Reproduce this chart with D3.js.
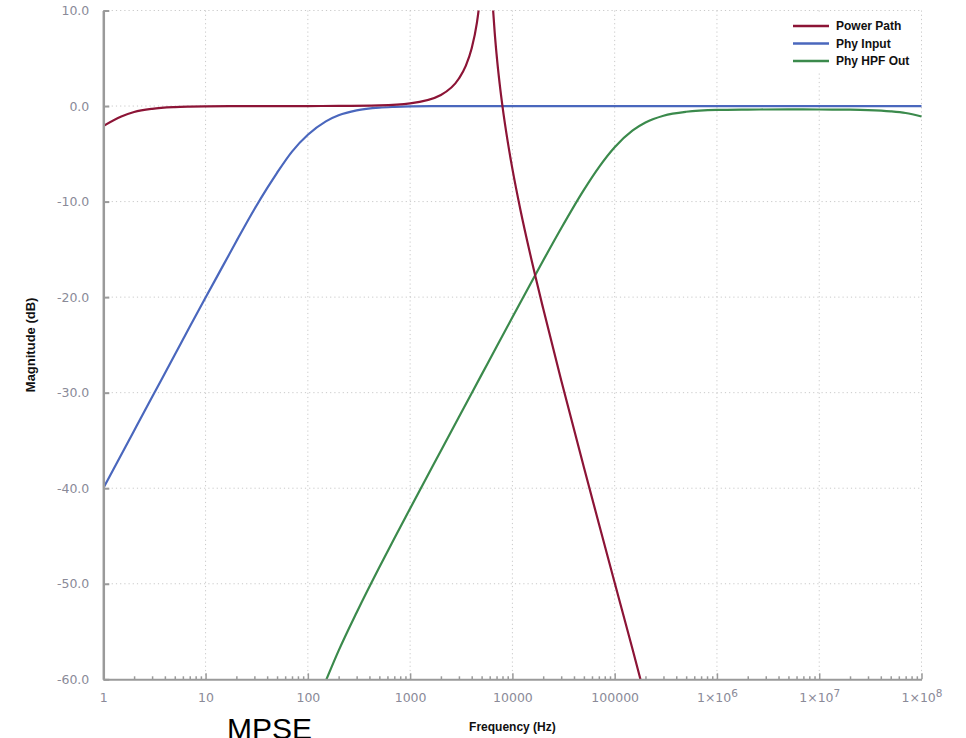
<!DOCTYPE html>
<html>
<head>
<meta charset="utf-8">
<script src="https://cdn.jsdelivr.net/npm/d3@7"></script>
<style>
  html, body { margin: 0; padding: 0; background: #ffffff; }
  svg { display: block; }
</style>
</head>
<body>
<svg id="chart" width="966" height="738"></svg>
<script>
// ---- Data ----
const seriesNames = ["Power Path", "Phy Input", "Phy HPF Out"];
const seriesColors = ["#8c1436", "#4a67bd", "#3b8a4c"];

const freqPower = [1, 1.5, 2, 3, 5, 7, 10, 20, 50, 100, 200, 500, 1000, 2000, 3000, 3500, 4000, 4500, 4700, 4800, 5000, 5300, 5650, 6000, 6200, 6300, 6400, 6500, 6700, 7000, 7500, 8000, 9000, 10000, 12000, 15000, 20000, 30000, 50000, 70000, 100000, 150000, 200000];
const dbPower   = [-2.1, -1.1, -0.63, -0.29, -0.11, -0.06, -0.03, 0, 0, 0, 0.01, 0.07, 0.28, 1.16, 2.88, 4.2, 6.04, 8.74, 10.23, 11.11, 13.3, 18.4, 26, 17.9, 13.8, 12.28, 10.96, 9.8, 7.82, 5.43, 2.36, -0.04, -3.73, -6.58, -10.9, -15.6, -21.2, -28.7, -37.8, -43.7, -49.9, -56.9, -62.0];

const freqInput = [1, 2, 3, 5, 7, 10, 15, 20, 30, 40, 50, 70, 100, 150, 200, 300, 500, 700, 1000, 2000, 10000, 100000, 1e6, 1e7, 1e8];
const dbInput   = [-40, -33.98, -30.46, -26.03, -23.1, -20.04, -16.6, -14.15, -10.8, -8.6, -6.99, -4.77, -3.01, -1.6, -0.97, -0.46, -0.17, -0.09, -0.04, -0.01, 0, 0, 0, 0, 0];

const freqHpf = [150, 200, 300, 500, 700, 1000, 2000, 3000, 5000, 7000, 10000, 15000, 20000, 30000, 50000, 70000, 100000, 150000, 200000, 300000, 500000, 1e6, 2e6, 5e6, 1e7, 2e7, 3e7, 5e7, 7e7, 1e8];
const dbHpf   = [-60.15, -57.0, -53.0, -48.27, -45.27, -42.12, -36.07, -32.54, -28.11, -25.19, -22.11, -18.62, -16.17, -12.79, -8.77, -6.41, -4.31, -2.55, -1.72, -1.01, -0.6, -0.41, -0.37, -0.35, -0.36, -0.38, -0.42, -0.55, -0.73, -1.1];

const xMajorTicks = [1, 10, 100, 1000, 10000, 100000, 1e6, 1e7, 1e8];
const xTickLabels = ["1", "10", "100", "1000", "10000", "100000", "1×10^6", "1×10^7", "1×10^8"];
const yTicks = [10, 0, -10, -20, -30, -40, -50, -60];

const xTitle = "Frequency (Hz)";
const yTitle = "Magnitude (dB)";
const footerText = "MPSE";

// ---- Layout ----
const plotLeft = 103.3, plotRight = 921.5, plotTop = 10.5, plotBottom = 679.3;
const svg = d3.select("#chart");

const x = d3.scaleLog().domain([1, 1e8]).range([plotLeft, plotRight]);
const y = d3.scaleLinear().domain([-60, 10]).range([plotBottom, plotTop]);

const labelColor = "#8a8a98";
const axisColor = "#9a9a9a";
const gridColor = "#c9c9c9";
const tickFont = "'DejaVu Sans', Verdana, sans-serif";
const titleFont = "'Liberation Sans', Arial, sans-serif";

// Gridlines
const grid = svg.append("g");
grid.selectAll("line.v").data(xMajorTicks.slice(1)).enter().append("line")
  .attr("x1", d => x(d)).attr("x2", d => x(d))
  .attr("y1", plotTop).attr("y2", plotBottom)
  .attr("stroke", gridColor).attr("stroke-width", 1).attr("stroke-dasharray", "1.2,3");
grid.selectAll("line.h").data(yTicks.filter(d => d > -60)).enter().append("line")
  .attr("x1", plotLeft).attr("x2", plotRight)
  .attr("y1", d => y(d)).attr("y2", d => y(d))
  .attr("stroke", gridColor).attr("stroke-width", 1).attr("stroke-dasharray", "1.2,3");

// Clip
svg.append("clipPath").attr("id", "plotclip").append("rect")
  .attr("x", plotLeft).attr("y", plotTop).attr("width", plotRight - plotLeft + 1).attr("height", plotBottom - plotTop);

// Lines
const line = d3.line().x(d => x(d[0])).y(d => y(d[1])).curve(d3.curveMonotoneX);
const seriesData = [
  d3.zip(freqPower, dbPower),
  d3.zip(freqInput, dbInput),
  d3.zip(freqHpf, dbHpf)
];
const plot = svg.append("g").attr("clip-path", "url(#plotclip)");
[2, 1, 0].forEach(i => {
  plot.append("path").datum(seriesData[i])
    .attr("d", line)
    .attr("fill", "none")
    .attr("stroke", seriesColors[i])
    .attr("stroke-width", 2.2)
    .attr("stroke-linejoin", "round");
});

// X axis (major)
const xAxis = d3.axisBottom(x).tickValues(xMajorTicks).tickSize(-6).tickSizeOuter(0).tickPadding(14)
  .tickFormat((d, i) => xTickLabels[i]);
const gx = svg.append("g").attr("transform", `translate(0,${plotBottom})`).call(xAxis);
gx.select(".domain").attr("stroke", axisColor).attr("stroke-width", 2);
gx.selectAll(".tick line").attr("stroke", axisColor).attr("stroke-width", 1.5);
gx.selectAll(".tick text")
  .attr("fill", labelColor).attr("font-family", tickFont).attr("font-size", 12.5)
  .each(function(d, i) {
    const t = xTickLabels[i];
    if (t.includes("^")) {
      const parts = t.split("^");
      const sel = d3.select(this);
      sel.text(null);
      sel.append("tspan").text(parts[0]);
      sel.append("tspan").attr("dy", "-0.45em").attr("font-size", 10.5).text(parts[1]);
    }
  });

// X axis minor ticks
const minorTicks = [];
for (let e = 0; e < 8; e++) for (let m = 2; m <= 9; m++) minorTicks.push(m * Math.pow(10, e));
const xMinor = d3.axisBottom(x).tickValues(minorTicks).tickSize(-3).tickSizeOuter(0).tickFormat("");
const gxm = svg.append("g").attr("transform", `translate(0,${plotBottom})`).call(xMinor);
gxm.select(".domain").remove();
gxm.selectAll(".tick line").attr("stroke", axisColor).attr("stroke-width", 1.5);

// Y axis
const yAxis = d3.axisLeft(y).tickValues(yTicks).tickSize(-6).tickSizeOuter(0).tickPadding(14)
  .tickFormat(d => d.toFixed(1));
const gy = svg.append("g").attr("transform", `translate(${plotLeft},0)`).call(yAxis);
gy.select(".domain").attr("stroke", axisColor).attr("stroke-width", 2.5);
gy.selectAll(".tick line").attr("stroke", axisColor).attr("stroke-width", 2);
gy.selectAll(".tick text").attr("fill", labelColor).attr("font-family", tickFont).attr("font-size", 12.5);

// Axis titles
svg.append("text").attr("x", (plotLeft + plotRight) / 2).attr("y", 731)
  .attr("text-anchor", "middle").attr("font-family", titleFont).attr("font-weight", "bold")
  .attr("font-size", 12).attr("fill", "#111").text(xTitle);
svg.append("text").attr("transform", `translate(35,${(plotTop + plotBottom) / 2}) rotate(-90)`)
  .attr("text-anchor", "middle").attr("font-family", titleFont).attr("font-weight", "bold")
  .attr("font-size", 13).attr("fill", "#111").text(yTitle);

// Legend
const lg = svg.append("g");
lg.append("rect").attr("x", 786).attr("y", 14).attr("width", 128).attr("height", 57).attr("fill", "#fff");
const legendY = [26, 43.5, 61];
seriesNames.forEach((name, i) => {
  lg.append("line").attr("x1", 793).attr("x2", 829).attr("y1", legendY[i]).attr("y2", legendY[i])
    .attr("stroke", seriesColors[i]).attr("stroke-width", 2.5);
  lg.append("text").attr("x", 836).attr("y", legendY[i] + 4.3)
    .attr("font-family", titleFont).attr("font-weight", "bold").attr("font-size", 12)
    .attr("fill", "#111").text(name);
});

// Footer text (partially cut off)
svg.append("text").attr("x", 227).attr("y", 739)
  .attr("font-family", titleFont).attr("font-size", 30).attr("fill", "#000").text(footerText);
</script>
</body>
</html>
